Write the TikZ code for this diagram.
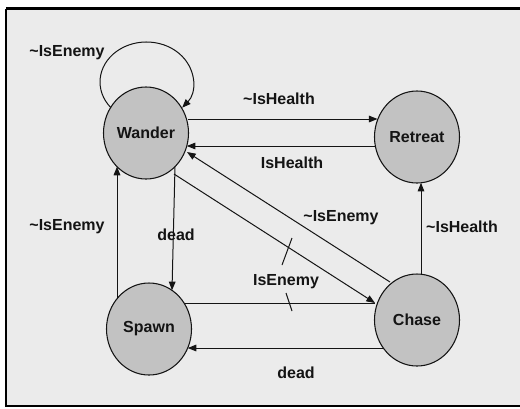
\documentclass[tikz,border=0pt]{standalone}
\usepackage{fontspec}
\setmainfont{Liberation Sans}
\usetikzlibrary{shapes.geometric,arrows.meta,calc}
\definecolor{bg}{HTML}{EBEBEB}
\definecolor{st}{HTML}{C2C2C2}
\definecolor{ink}{HTML}{141414}
\begin{document}
\begin{tikzpicture}[x=0.75pt,y=-0.75pt,
  state/.style={ellipse,draw=ink,line width=0.8pt,fill=st,minimum width=63.75pt,minimum height=69pt,inner sep=0pt,font=\bfseries\fontsize{12}{14}\selectfont,text=ink},
  lbl/.style={font=\bfseries\fontsize{12}{14}\selectfont,text=ink,inner sep=0pt},
  conn/.style={draw=ink,line width=0.75pt},
  arr/.style={conn,-{Triangle[length=6.5pt,width=5pt]}}]
\useasboundingbox (0,0) rectangle (520,408);
\fill[white] (0,0) rectangle (520,408);
\fill[bg] (6,8.5) rectangle (520,406);
\draw[black,line width=2.3pt] (6,8.5) -- (520,8.5);
\draw[black,line width=1.6pt] (6,8.5) -- (6,406) -- (520,406);

\node[state] (W) at (146,133) {Wander};
\node[state] (R) at (417,137) {Retreat};
\node[state] (S) at (149,329) {Spawn};
\node[state] (C) at (417,320) {Chase};

% self loop on Wander
\draw[arr] ($(W)+(-35.1,-25.3)$) arc[start angle=140,end angle=400,x radius=46.5,y radius=40];
\node[lbl] (l1) at (67,53) {\textasciitilde IsEnemy};

% Wander <-> Retreat
\draw[arr] ($(W)+(42,-14)$) -- ($(R)+(-39.5,-18)$);
\draw[arr] ($(R)+(-41.7,9)$) -- ($(W)+(40.8,13)$);
\node[lbl] (l2) at (279,99) {\textasciitilde IsHealth};
\node[lbl] (l3) at (292,163) {IsHealth};

% Spawn -> Wander
\draw[arr] ($(S)+(-32,-30.3)$) -- ($(W)+(-29,33.6)$);
\node[lbl] (l4) at (67,227) {\textasciitilde IsEnemy};

% Wander -> Spawn
\draw[arr] ($(W)+(29,33.6)$) -- ($(S)+(23,-38.7)$);
\node[lbl] (l5) at (176,235) {dead};

% Wander -> Chase and Spawn -> Chase
\coordinate (ctip) at ($(C)+(-42,-17)$);
\draw[conn] ($(S)+(35.1,-26)$) -- (ctip);
\draw[arr] ($(W)+(28,41)$) -- (ctip);
\node[lbl] (l6) at (286,282) {IsEnemy};
\draw[conn] (292,238) -- (282,265);
\draw[conn] (286,293) -- (292,311);

% Chase -> Wander
\draw[arr] ($(C)+(-27,-38)$) -- ($(W)+(41,19)$);
\node[lbl] (l7) at (341,218) {\textasciitilde IsEnemy};

% Chase -> Retreat
\draw[arr] ($(C)+(4,-45.8)$) -- ($(R)+(4,45.8)$);
\node[lbl] (l8) at (462,227) {\textasciitilde IsHealth};

% Chase -> Spawn
\draw[arr] ($(C)+(-33.7,28)$) -- ($(S)+(38.7,19)$);
\node[lbl] (l9) at (296,373) {dead};
\end{tikzpicture}
\end{document}
